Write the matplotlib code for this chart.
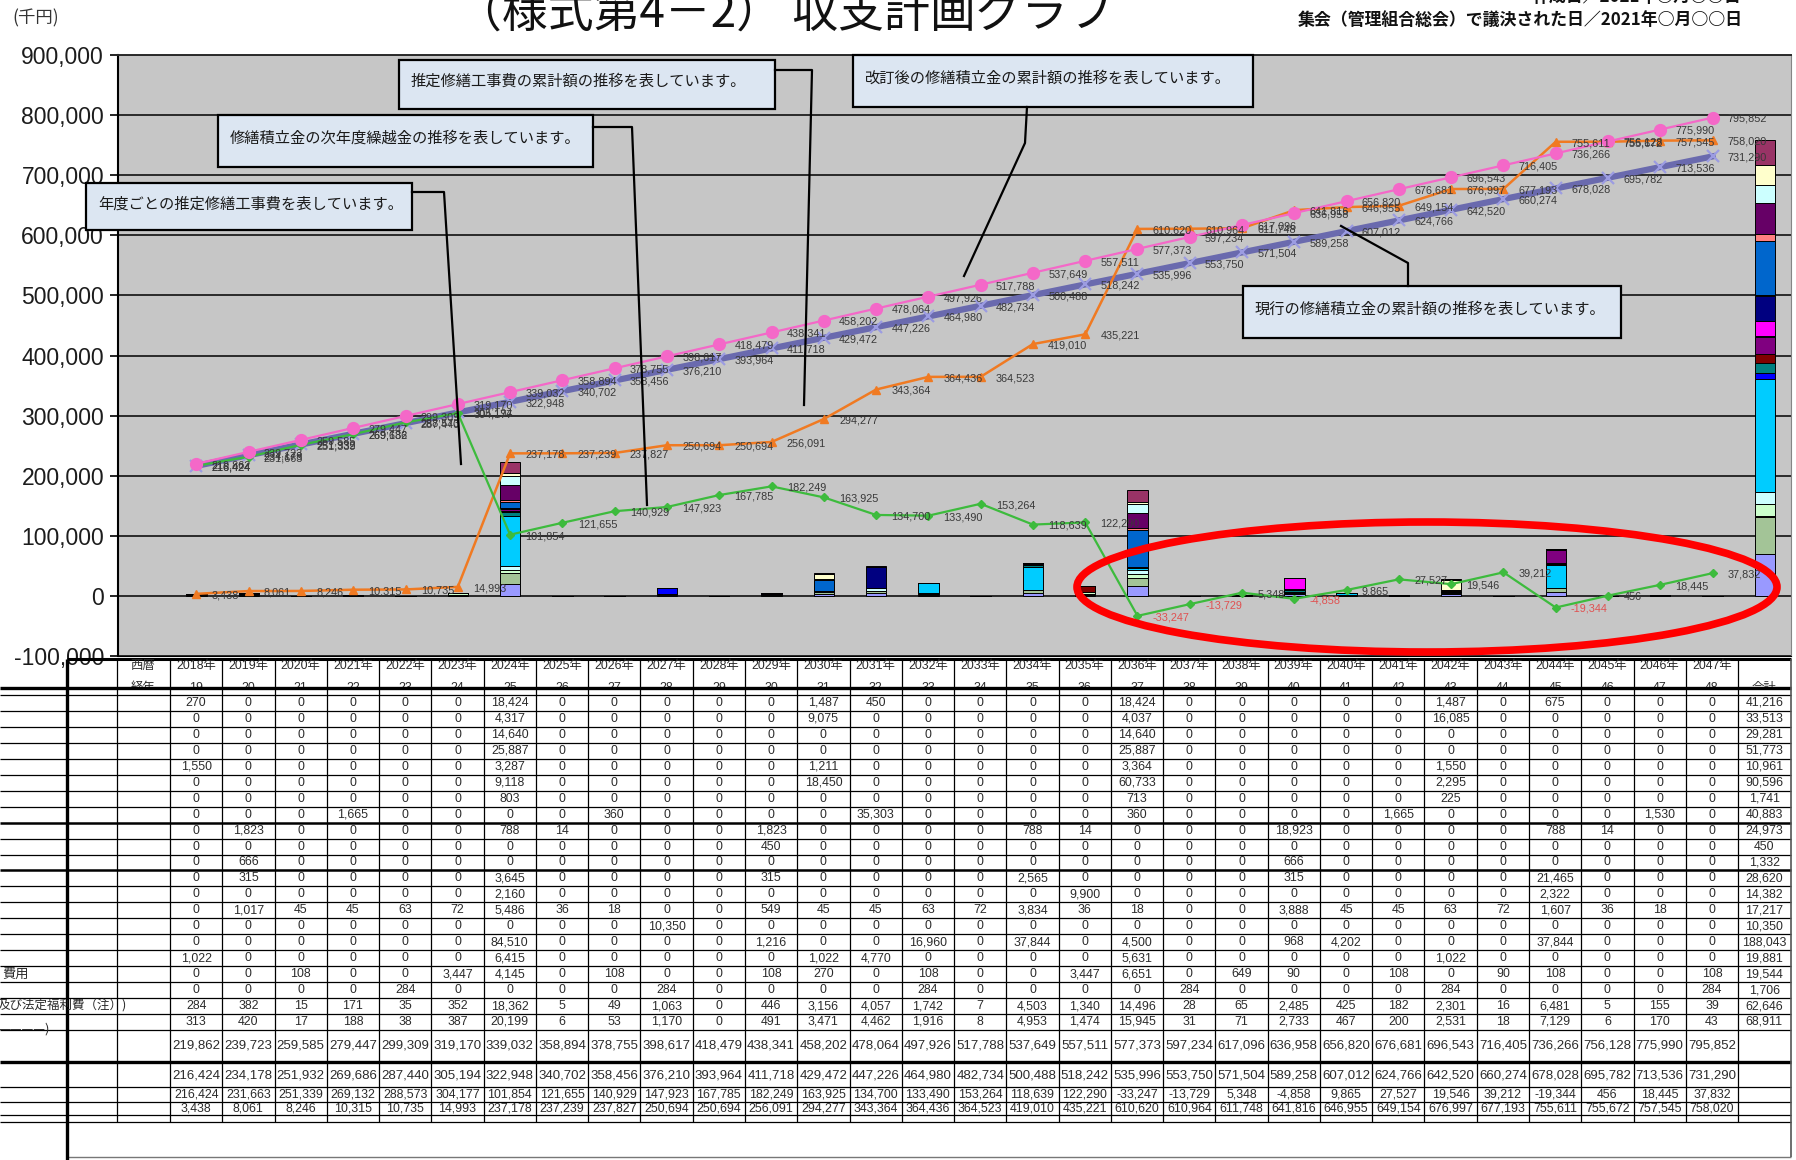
import numpy as np
import matplotlib
matplotlib.use("Agg")
import matplotlib.pyplot as plt
from matplotlib import font_manager
from matplotlib.patches import Rectangle, Ellipse
from matplotlib.ticker import FuncFormatter
from matplotlib.transforms import Bbox

W, H = 1796, 1160

years = list(range(2018, 2048))
elapsed = list(range(19, 49))

# 工事項目ごとの推定修繕工事費（千円）、2018年〜2047年
repair_items = [
    [270, 0, 0, 0, 0, 0, 18424, 0, 0, 0, 0, 0, 1487, 450, 0, 0, 0, 0, 18424, 0, 0, 0, 0, 0, 1487, 0, 675, 0, 0, 0],
    [0, 0, 0, 0, 0, 0, 4317, 0, 0, 0, 0, 0, 9075, 0, 0, 0, 0, 0, 4037, 0, 0, 0, 0, 0, 16085, 0, 0, 0, 0, 0],
    [0, 0, 0, 0, 0, 0, 14640, 0, 0, 0, 0, 0, 0, 0, 0, 0, 0, 0, 14640, 0, 0, 0, 0, 0, 0, 0, 0, 0, 0, 0],
    [0, 0, 0, 0, 0, 0, 25887, 0, 0, 0, 0, 0, 0, 0, 0, 0, 0, 0, 25887, 0, 0, 0, 0, 0, 0, 0, 0, 0, 0, 0],
    [1550, 0, 0, 0, 0, 0, 3287, 0, 0, 0, 0, 0, 1211, 0, 0, 0, 0, 0, 3364, 0, 0, 0, 0, 0, 1550, 0, 0, 0, 0, 0],
    [0, 0, 0, 0, 0, 0, 9118, 0, 0, 0, 0, 0, 18450, 0, 0, 0, 0, 0, 60733, 0, 0, 0, 0, 0, 2295, 0, 0, 0, 0, 0],
    [0, 0, 0, 0, 0, 0, 803, 0, 0, 0, 0, 0, 0, 0, 0, 0, 0, 0, 713, 0, 0, 0, 0, 0, 225, 0, 0, 0, 0, 0],
    [0, 0, 0, 1665, 0, 0, 0, 0, 360, 0, 0, 0, 0, 35303, 0, 0, 0, 0, 360, 0, 0, 0, 0, 1665, 0, 0, 0, 0, 1530, 0],
    [0, 1823, 0, 0, 0, 0, 788, 14, 0, 0, 0, 1823, 0, 0, 0, 0, 788, 14, 0, 0, 0, 18923, 0, 0, 0, 0, 788, 14, 0, 0],
    [0, 0, 0, 0, 0, 0, 0, 0, 0, 0, 0, 450, 0, 0, 0, 0, 0, 0, 0, 0, 0, 0, 0, 0, 0, 0, 0, 0, 0, 0],
    [0, 666, 0, 0, 0, 0, 0, 0, 0, 0, 0, 0, 0, 0, 0, 0, 0, 0, 0, 0, 0, 666, 0, 0, 0, 0, 0, 0, 0, 0],
    [0, 315, 0, 0, 0, 0, 3645, 0, 0, 0, 0, 315, 0, 0, 0, 0, 2565, 0, 0, 0, 0, 315, 0, 0, 0, 0, 21465, 0, 0, 0],
    [0, 0, 0, 0, 0, 0, 2160, 0, 0, 0, 0, 0, 0, 0, 0, 0, 0, 9900, 0, 0, 0, 0, 0, 0, 0, 0, 2322, 0, 0, 0],
    [0, 1017, 45, 45, 63, 72, 5486, 36, 18, 0, 0, 549, 45, 45, 63, 72, 3834, 36, 18, 0, 0, 3888, 45, 45, 63, 72, 1607, 36, 18, 0],
    [0, 0, 0, 0, 0, 0, 0, 0, 0, 10350, 0, 0, 0, 0, 0, 0, 0, 0, 0, 0, 0, 0, 0, 0, 0, 0, 0, 0, 0, 0],
    [0, 0, 0, 0, 0, 0, 84510, 0, 0, 0, 0, 1216, 0, 0, 16960, 0, 37844, 0, 4500, 0, 0, 968, 4202, 0, 0, 0, 37844, 0, 0, 0],
    [1022, 0, 0, 0, 0, 0, 6415, 0, 0, 0, 0, 0, 1022, 4770, 0, 0, 0, 0, 5631, 0, 0, 0, 0, 0, 1022, 0, 0, 0, 0, 0],
    [0, 0, 108, 0, 0, 3447, 4145, 0, 108, 0, 0, 108, 270, 0, 108, 0, 0, 3447, 6651, 0, 649, 90, 0, 108, 0, 90, 108, 0, 0, 108],
    [0, 0, 0, 0, 284, 0, 0, 0, 0, 284, 0, 0, 0, 0, 284, 0, 0, 0, 0, 284, 0, 0, 0, 0, 284, 0, 0, 0, 0, 284],
]
overhead = [284, 382, 15, 171, 35, 352, 18362, 5, 49, 1063, 0, 446, 3156, 4057, 1742, 7, 4503, 1340, 14496, 28,
            65, 2485, 425, 182, 2301, 16, 6481, 5, 155, 39]
tax = [313, 420, 17, 188, 38, 387, 20199, 6, 53, 1170, 0, 491, 3471, 4462, 1916, 8, 4953, 1474, 15945, 31,
       71, 2733, 467, 200, 2531, 18, 7129, 6, 170, 43]
item_totals = [41216, 33513, 29281, 51773, 10961, 90596, 1741, 40883, 24973, 450, 1332, 28620, 14382, 17217,
               10350, 188043, 19881, 19544, 1706, 62646, 68911]

fund_revised = [219862, 239723, 259585, 279447, 299309, 319170, 339032, 358894, 378755, 398617,
                418479, 438341, 458202, 478064, 497926, 517788, 537649, 557511, 577373, 597234,
                617096, 636958, 656820, 676681, 696543, 716405, 736266, 756128, 775990, 795852]
fund_current = [216424, 234178, 251932, 269686, 287440, 305194, 322948, 340702, 358456, 376210,
                393964, 411718, 429472, 447226, 464980, 482734, 500488, 518242, 535996, 553750,
                571504, 589258, 607012, 624766, 642520, 660274, 678028, 695782, 713536, 731290]
carryover = [216424, 231663, 251339, 269132, 288573, 304177, 101854, 121655, 140929, 147923,
             167785, 182249, 163925, 134700, 133490, 153264, 118639, 122290, -33247, -13729,
             5348, -4858, 9865, 27527, 19546, 39212, -19344, 456, 18445, 37832]
cost_cumulative = [3438, 8061, 8246, 10315, 10735, 14993, 237178, 237239, 237827, 250694,
                   250694, 256091, 294277, 343364, 364436, 364523, 419010, 435221, 610620, 610964,
                   611748, 641816, 646955, 649154, 676997, 677193, 755611, 755672, 757545, 758020]

item_colors = ["#993366", "#FFFFCC", "#CCFFFF", "#660066", "#FF8080", "#0066CC", "#CCCCFF",
               "#000080", "#FF00FF", "#FFFF00", "#00FFFF", "#800080", "#800000", "#008080",
               "#0000FF", "#00CCFF", "#CCFFFF", "#CCFFCC", "#FFFF99", "#A3C497", "#9999FF"]

installed = {f.name for f in font_manager.fontManager.ttflist}
JP = "Noto Sans CJK JP"
NUM = next(f for f in ("Liberation Sans Narrow", "Liberation Sans", "DejaVu Sans") if f in installed)
TICK = "Liberation Sans" if "Liberation Sans" in installed else "DejaVu Sans"
NARROW = NUM == "Liberation Sans Narrow"
plt.rcParams["font.family"] = [NUM, JP]
table_fs = 10.6 if NARROW else 8.9
label_fs = 9.3 if NARROW else 7.8

fig = plt.figure(figsize=(W / 100, H / 100), dpi=100)
fig.patch.set_facecolor("white")

# --- chart ---
left, right, top, bottom = 118, 1791, 55, 656
ax = fig.add_axes([left / W, 1 - bottom / H, (right - left) / W, (bottom - top) / H])
ax.set_facecolor("#C6C6C6")
ax.set_xlim(-0.5, 31.5)
ax.set_ylim(-100000, 900000)

all_items = repair_items + [overhead, tax]
pos = np.arange(1, 32)
base = np.zeros(31)
for vals, tot, col in reversed(list(zip(all_items, item_totals, item_colors))):
    h = np.array(vals + [tot], dtype=float)
    ax.bar(pos, h, width=0.39, bottom=base, color=col, edgecolor="black", linewidth=0.7, zorder=2)
    base += h

xs = np.arange(1, 31)
ax.plot(xs, fund_current, color="#6A6AAE", lw=4.5, marker="x", ms=8, mec="#9C9CE2", mew=1.6, zorder=3)
ax.plot(xs, cost_cumulative, color="#F07A22", lw=1.8, marker="^", ms=6, zorder=4)
ax.plot(xs, carryover, color="#3DBB3D", lw=1.6, marker="D", ms=4.5, zorder=5)
ax.plot(xs, fund_revised, color="#F468C8", lw=1.6, marker="o", ms=8.5, zorder=6)

for series in (fund_current, cost_cumulative, carryover, fund_revised):
    for x, v in zip(xs, series):
        ax.annotate(f"{v:,}", (x, v), xytext=(11, -1), textcoords="offset points",
                    ha="left", va="center", fontsize=label_fs,
                    color="#E05050" if v < 0 else "#383838", zorder=7)

ax.set_yticks(np.arange(-100000, 900001, 100000))
ax.yaxis.set_major_formatter(FuncFormatter(lambda v, p: f"{int(v):,}"))
ax.tick_params(axis="y", direction="out", length=6, width=1.2, labelsize=16.5, pad=4, labelcolor="#1c1c1c")
for t in ax.get_yticklabels():
    t.set_family(TICK)
ax.tick_params(axis="x", bottom=False, labelbottom=False)
ax.grid(axis="y", color="#2a2a2a", lw=1.4)
ax.set_axisbelow(True)
ax.spines["left"].set_color("black")
ax.spines["left"].set_linewidth(1.5)
ax.spines["top"].set_color("#2a2a2a")
ax.spines["top"].set_linewidth(1.4)
ax.spines["bottom"].set_color("black")
ax.spines["right"].set_color("#858585")

# --- overlay in pixel units: table, notes, headings ---
ov = fig.add_axes([0, 0, 1, 1], zorder=5)
ov.set_xlim(0, W)
ov.set_ylim(H, 0)
ov.axis("off")

col0, cw = 170, 52.27
rh, r0 = 15.95, 695
xc = [col0 + (k + 0.5) * cw for k in range(31)]

# grid lines
ov.hlines(659, 67, 1791, color="black", lw=2.2)
ov.hlines(688, 0, 1791, color="black", lw=2.4)
for k in range(22):
    ov.hlines(r0 + k * rh, 0, 1791, color="black", lw=1.8 if k in (8, 11) else 0.9)
ov.hlines(1062, 0, 1791, color="black", lw=2.4)
for y in (1087, 1102, 1115, 1122):
    ov.hlines(y, 0, 1791, color="black", lw=0.9)
ov.hlines(1157, 67, 1791, color="#777777", lw=1.0)
ov.vlines(67, 659, 1160, color="black", lw=2.4)
ov.vlines(117, 659, 1122, color="black", lw=0.9)
for k in range(31):
    ov.vlines(col0 + k * cw, 659, 1122, color="black", lw=0.9)
ov.vlines(1791, 659, 1157, color="#555555", lw=1.2)

# header (second line is cut by the heavy rule)
hdr = dict(ha="center", va="center", fontsize=table_fs, color="#2b2b2b")
ov.text(143, 666, "西暦", family=JP, **hdr)
clip = Bbox([[0, H - 687], [W, H - 670]])
sub = [ov.text(143, 688, "経年", family=JP, **hdr)]
for k, (yr, n) in enumerate(zip(years, elapsed)):
    ov.text(xc[k], 666, f"{yr}年", **hdr)
    sub.append(ov.text(xc[k], 688, str(n), **hdr))
sub.append(ov.text(xc[30], 688, "合計", family=JP, **hdr))
for t in sub:
    t.set_clip_on(True)
    t.set_clip_box(clip)

# body
cell = dict(ha="center", va="center", fontsize=table_fs, color="#2b2b2b")
for r, (vals, tot) in enumerate(zip(all_items, item_totals)):
    yc = r0 + (r + 0.5) * rh
    for k, v in enumerate(vals):
        ov.text(xc[k], yc, f"{v:,}", **cell)
    ov.text(xc[30], yc, f"{tot:,}", **cell)
big = dict(cell, fontsize=table_fs + 0.6)
for yc, series, style in ((1046, fund_revised, big), (1075, fund_current, big),
                          (1094.5, carryover, cell), (1108.5, cost_cumulative, cell)):
    for k, v in enumerate(series):
        ov.text(xc[k], yc, f"{v:,}", **style)

ov.text(2, r0 + 17.5 * rh, "費用", family=JP, fontsize=9.5, va="center", color="#2b2b2b")
ov.text(-2, r0 + 19.5 * rh, "及び法定福利費（注）)", family=JP, fontsize=9, va="center", color="#2b2b2b")
ov.text(-2, 1029, "————)", family=JP, fontsize=9.5, va="center", color="#2b2b2b")

# explanatory notes with leader lines
notes = [
    ((399, 60, 775, 109), "推定修繕工事費の累計額の推移を表しています。", [(775, 70), (812, 70), (804, 405)]),
    ((218, 115, 593, 167), "修繕積立金の次年度繰越金の推移を表しています。", [(593, 127), (632, 127), (647, 505)]),
    ((86, 183, 412, 230), "年度ごとの推定修繕工事費を表しています。", [(412, 192), (444, 192), (461, 464)]),
    ((853, 55, 1253, 107), "改訂後の修繕積立金の累計額の推移を表しています。", [(1027, 107), (1025, 143), (964, 276)]),
    ((1243, 286, 1621, 338), "現行の修繕積立金の累計額の推移を表しています。", [(1408, 286), (1408, 263), (1341, 226)]),
]
for (x0, y0, x1, y1), txt, path in notes:
    ov.add_patch(Rectangle((x0, y0), x1 - x0, y1 - y0, facecolor="#DCE6F2", edgecolor="black", lw=1.6))
    ov.text(x0 + 12, y0 + 0.44 * (y1 - y0), txt, family=JP, fontsize=11, ha="left", va="center", color="#1a1a1a")
    px, py = zip(*path)
    ov.plot(px, py, color="black", lw=1.6)

ov.add_patch(Ellipse((1427, 587), 700, 130, fill=False, edgecolor="#FF0000", lw=5.5))

# headings
ov.text(12, 18, "(千円)", family=JP, fontsize=12.5, ha="left", va="center", color="#333333")
ov.text(785, 27, "（様式第4－2） 収支計画グラフ", family=JP, fontsize=33, ha="center", va="baseline", color="#111111")
ov.text(1741, 2, "作成日／2021年○月○○日", family=JP, fontsize=12.2, weight="bold", ha="right", va="baseline", color="#111111")
ov.text(1743, 20, "集会（管理組合総会）で議決された日／2021年○月○○日", family=JP, fontsize=12.2, weight="bold",
        ha="right", va="center", color="#111111")

fig.savefig("out.png", dpi=100)
